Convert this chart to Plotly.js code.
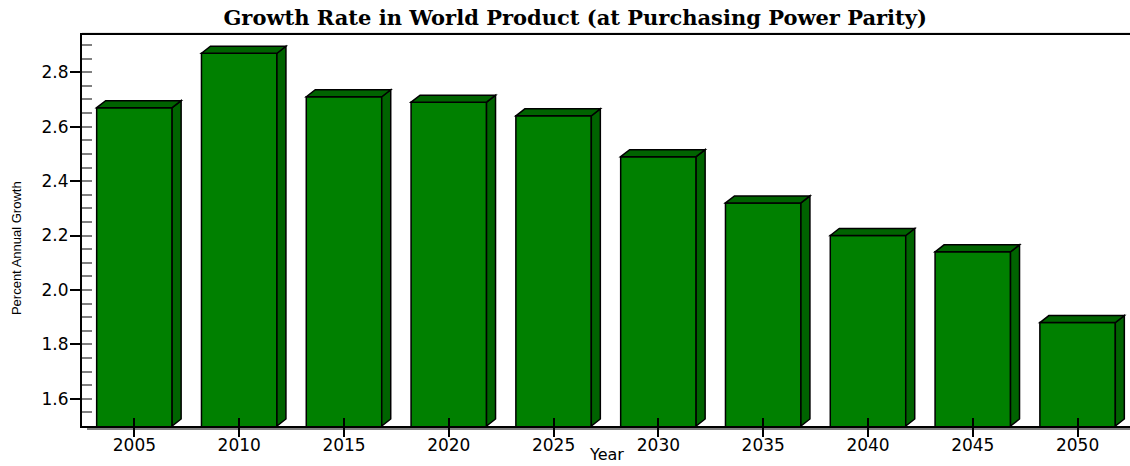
<!DOCTYPE html>
<html>
<head>
<meta charset="utf-8">
<script src="https://cdn.plot.ly/plotly-3.0.1.min.js"></script>
<style>html,body{margin:0;padding:0;background:#fff;}#chart{width:1130px;height:466px;}</style>
</head>
<body>
<div id="chart"></div>
<script>
// ---- data ----
var years = ['2005','2010','2015','2020','2025','2030','2035','2040','2045','2050'];
var growth = [2.67, 2.87, 2.71, 2.69, 2.64, 2.49, 2.32, 2.20, 2.14, 1.88];
var yTickVals = [1.6, 1.8, 2.0, 2.2, 2.4, 2.6, 2.8];
var yTickText = ['1.6', '1.8', '2.0', '2.2', '2.4', '2.6', '2.8'];
var chartTitle = 'Growth Rate in World Product (at Purchasing Power Parity)';
var xTitle = 'Year';
var yTitle = 'Percent Annual Growth';

// ---- layout constants ----
var W = 1130, H = 466;
var M = {l: 82, r: 0, t: 35, b: 40};
var yRange = [1.5, 2.937];
var xRange = [-0.5, years.length - 0.5];
var barW = 0.72;
var plotW = W - M.l - M.r, plotH = H - M.t - M.b;
var pxPerCat = plotW / (xRange[1] - xRange[0]);
var pxPerVal = plotH / (yRange[1] - yRange[0]);
var dx = 9 / pxPerCat;   // 3D depth, horizontal
var dy = 7 / pxPerVal;   // 3D depth, vertical

var front = '#008000', dark = '#006300', edge = '#000000';

var shapes = [];
growth.forEach(function (v, i) {
  var L = i - barW / 2, R = i + barW / 2, b = yRange[0];
  // side face
  shapes.push({type: 'path', xref: 'x', yref: 'y', layer: 'above',
    path: 'M' + R + ',' + b + ' L' + (R + dx) + ',' + (b + dy) + ' L' + (R + dx) + ',' + (v + dy) + ' L' + R + ',' + v + ' Z',
    fillcolor: dark, line: {color: edge, width: 1.5}});
  // top face
  shapes.push({type: 'path', xref: 'x', yref: 'y', layer: 'above',
    path: 'M' + L + ',' + v + ' L' + (L + dx) + ',' + (v + dy) + ' L' + (R + dx) + ',' + (v + dy) + ' L' + R + ',' + v + ' Z',
    fillcolor: dark, line: {color: edge, width: 1.5}});
});
// grey floor shadow under the x axis
shapes.push({type: 'line', xref: 'paper', yref: 'paper', xsizemode: 'pixel', ysizemode: 'pixel',
  xanchor: 0, yanchor: 0, x0: 5, x1: plotW + 5, y0: -2.5, y1: -2.5,
  line: {color: '#808080', width: 3}, layer: 'below'});
// grey shadow above the top frame line
shapes.push({type: 'line', xref: 'paper', yref: 'paper', xsizemode: 'pixel', ysizemode: 'pixel',
  xanchor: 0, yanchor: 1, x0: 0, x1: plotW, y0: 1.8, y1: 1.8,
  line: {color: '#b0b0b0', width: 1}, layer: 'below'});

var traces = [
  {type: 'bar', x: years, y: growth, width: barW,
   marker: {color: front, line: {color: edge, width: 1.5}},
   hoverinfo: 'x+y', showlegend: false},
  {type: 'scatter', mode: 'markers', x: years, y: growth, xaxis: 'x2', yaxis: 'y2',
   marker: {opacity: 0}, hoverinfo: 'skip', showlegend: false}
];

var tickFont = {family: 'DejaVu Sans, Arial, sans-serif', size: 17, color: '#000'};

var layout = {
  width: W, height: H,
  margin: M,
  paper_bgcolor: '#fff', plot_bgcolor: '#fff',
  showlegend: false,
  title: {text: '<b>' + chartTitle + '</b>', x: 0.509, xanchor: 'center', y: 0.962, yanchor: 'middle',
          font: {family: 'DejaVu Serif, Liberation Serif, serif', size: 21, color: '#000'}},
  xaxis: {type: 'category', range: xRange, showgrid: false, zeroline: false,
          showline: true, linecolor: '#000', linewidth: 2, mirror: true,
          ticks: 'outside', ticklen: 9, tickwidth: 2, tickcolor: '#000',
          ticklabelstandoff: -6,
          tickfont: tickFont, fixedrange: true},
  yaxis: {range: yRange, showgrid: false, zeroline: false,
          showline: true, linecolor: '#000', linewidth: 2,
          ticks: 'outside', ticklen: 10, tickwidth: 2, tickcolor: '#000',
          ticklabelstandoff: -2,
          tickvals: yTickVals, ticktext: yTickText, tickfont: tickFont, fixedrange: true},
  xaxis2: {type: 'category', overlaying: 'x', range: xRange, side: 'bottom', showgrid: false, zeroline: false,
           showline: false, ticks: 'inside', ticklen: 8, tickwidth: 2, tickcolor: '#000',
           showticklabels: false, fixedrange: true},
  yaxis2: {overlaying: 'y', range: yRange, side: 'left', showgrid: false, zeroline: false,
           showline: false, ticks: 'inside', ticklen: 10, tickwidth: 2, tickcolor: '#808080',
           tick0: 1.5, dtick: 0.05, showticklabels: false, fixedrange: true},
  shapes: shapes,
  annotations: [
    {text: yTitle, xref: 'paper', yref: 'paper', x: -0.063, y: 0.455,
     xanchor: 'center', yanchor: 'middle', textangle: -90, showarrow: false,
     font: {family: 'Liberation Sans, Arial, sans-serif', size: 13, color: '#000'}},
    {text: xTitle, xref: 'paper', yref: 'paper', x: 0.5, y: 0, yshift: -28,
     xanchor: 'center', yanchor: 'middle', showarrow: false,
     font: {family: 'DejaVu Sans, Arial, sans-serif', size: 16, color: '#000'}}
  ]
};

Plotly.newPlot('chart', traces, layout, {displayModeBar: false, staticPlot: true});
</script>
</body>
</html>
